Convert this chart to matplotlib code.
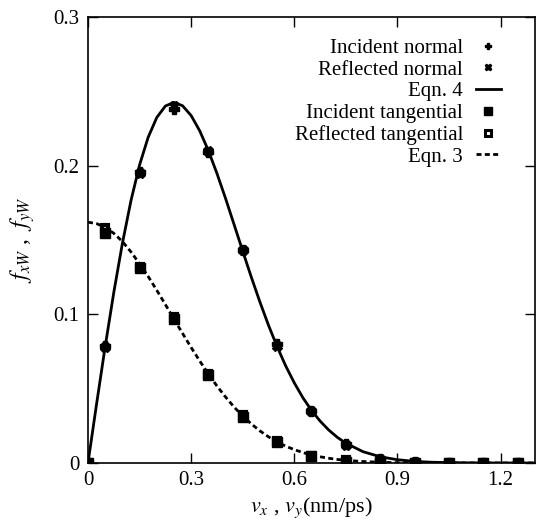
import numpy as np
import matplotlib
matplotlib.use('Agg')
import matplotlib.pyplot as plt

plt.rcParams['font.family'] = ['Liberation Serif', 'DejaVu Serif']
plt.rcParams['mathtext.fontset'] = 'stix'

# sampled points (velocity bins)
v_pts = [0.0, 0.05, 0.15, 0.25, 0.35, 0.45, 0.55, 0.65, 0.75, 0.85, 0.95, 1.05, 1.15, 1.25]
inc_normal = [0.0, 0.079, 0.196, 0.238, 0.209, 0.143, 0.080, 0.035, 0.013, 0.003, 0.001, 0.0, 0.0, 0.0]
ref_normal = [0.0, 0.078, 0.195, 0.240, 0.210, 0.143, 0.079, 0.035, 0.012, 0.003, 0.0005, 0.0, 0.0, 0.0]
inc_tang = [0.0, 0.155, 0.131, 0.097, 0.059, 0.031, 0.014, 0.005, 0.001, 0.0, 0.0, 0.0, 0.0, 0.0]
ref_tang = [0.0, 0.158, 0.132, 0.098, 0.060, 0.032, 0.015, 0.005, 0.002, 0.0, 0.0, 0.0, 0.0, 0.0]

# theory curves
v_curve = [0.0, 0.025, 0.05, 0.075, 0.1, 0.125, 0.15, 0.175, 0.2, 0.225, 0.25, 0.275,
           0.3, 0.325, 0.35, 0.375, 0.4, 0.425, 0.45, 0.475, 0.5, 0.525, 0.55, 0.575,
           0.6, 0.625, 0.65, 0.675, 0.7, 0.725, 0.75, 0.8, 0.85, 0.9, 0.95, 1.0, 1.1, 1.2, 1.3]
eqn4 = [0.0, 0.0398, 0.0784, 0.1147, 0.1477, 0.1765, 0.2005, 0.2191, 0.2324, 0.2401, 0.2426, 0.2403,
        0.2337, 0.2234, 0.2102, 0.1948, 0.1780, 0.1603, 0.1425, 0.1250, 0.1083, 0.0926, 0.0783, 0.0653,
        0.0539, 0.0439, 0.0354, 0.0282, 0.0222, 0.0173, 0.0133, 0.0076, 0.0042, 0.0022, 0.0011, 0.0005,
        0.0001, 0.0, 0.0]
eqn3 = [0.1620, 0.1610, 0.1585, 0.1545, 0.1490, 0.1420, 0.1340, 0.1255, 0.1162, 0.1066, 0.0968, 0.0872,
        0.0777, 0.0686, 0.0599, 0.0518, 0.0444, 0.0376, 0.0316, 0.0263, 0.0216, 0.0176, 0.0142, 0.0113,
        0.0090, 0.0070, 0.0054, 0.0042, 0.0032, 0.0024, 0.0018, 0.0010, 0.0005, 0.0002, 0.0001, 0.0,
        0.0, 0.0, 0.0]

x_ticks = [0, 0.3, 0.6, 0.9, 1.2]
x_ticklabels = ['0', '0.3', '0.6', '0.9', '1.2']
y_ticks = [0, 0.1, 0.2, 0.3]
y_ticklabels = ['0', '0.1', '0.2', '0.3']

fig = plt.figure(figsize=(5.37, 5.28), dpi=100)
ax = fig.add_axes([88 / 537, 1 - 463 / 528, (535 - 88) / 537, (463 - 17) / 528])

ax.plot(v_pts, inc_normal, ls='none', marker='P', ms=6.5, color='k', label='Incident normal', zorder=4)
ax.plot(v_pts, ref_normal, ls='none', marker='X', ms=6.5, color='k', label='Reflected normal', zorder=4)
ax.plot(v_curve, eqn4, '-', color='k', lw=2, label='Eqn. 4', zorder=2)
ax.plot(v_pts, inc_tang, ls='none', marker='s', ms=7, color='k', label='Incident tangential', zorder=4)
ax.plot(v_pts, ref_tang, ls='none', marker='s', ms=4.2, mfc='white', mec='k', mew=3,
        label='Reflected tangential', zorder=3)
ax.plot(v_curve, eqn3, color='k', lw=2, ls=(0, (1.8, 1.2)), label='Eqn. 3', zorder=2)

ax.set_xlim(0, 1.3)
ax.set_ylim(0, 0.3)
ax.set_xticks(x_ticks)
ax.set_xticklabels(x_ticklabels)
ax.set_yticks(y_ticks)
ax.set_yticklabels(y_ticklabels)
ax.tick_params(direction='in', length=7, width=1, top=True, right=True, labelsize=15, pad=6)
for s in ax.spines.values():
    s.set_linewidth(1.2)

ax.set_xlabel(r'$v_x$ , $v_y$(nm/ps)', fontsize=16, labelpad=4)
ax.set_ylabel(r'$f_{xW}$ ,  $f_{yW}$', fontsize=17, labelpad=12)

leg = ax.legend(loc='upper right', frameon=False, markerfirst=False, fontsize=15,
                handlelength=1.2, handletextpad=0.6, labelspacing=0.1, markerscale=0.75,
                borderaxespad=0.3, bbox_to_anchor=(0.956, 0.985))
# keep the white centre of the hollow square visible in the legend
leg.legend_handles[4].set_markeredgewidth(2.2)
leg.legend_handles[4].set_markersize(4.8)

fig.savefig('out.png', dpi=100)
